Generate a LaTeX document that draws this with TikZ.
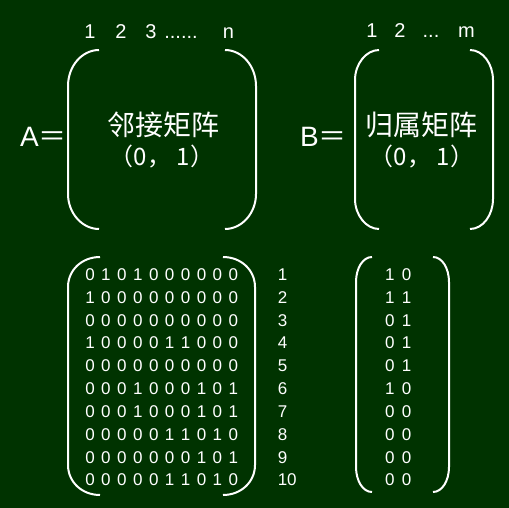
\documentclass[tikz,border=0pt]{standalone}
\usepackage{fontspec}
\setmainfont{Liberation Sans}
\newfontfamily\cjk{Noto Sans CJK SC}
\usetikzlibrary{matrix, positioning}
\definecolor{board}{RGB}{0,51,0}
\tikzset{
  every node/.style={text=white, inner sep=0pt},
  big/.style={font=\fontsize{28}{28}\selectfont},
  mid/.style={font=\fontsize{24}{24}\selectfont},
  head/.style={font=\fontsize{20}{20}\selectfont, anchor=base},
  small/.style={font=\fontsize{17}{17}\selectfont},
  cell/.style={small, minimum width=15.93pt, minimum height=22.83pt},
  paren/.style={draw=white, line width=2pt},
}

\begin{document}
\begin{tikzpicture}[x=1pt, y=-1pt]
		% board
		\fill[board] (0,0) rectangle (509,508);
		\useasboundingbox (0,0) rectangle (509,508);

		% matrix A, general form
		\node[big, anchor=base west] (A) at (20,147) {A\cjk{＝}};
		\node[head] (acol1) at (90,39) {1};
		\node[head] (acol2) at (121,39) {2};
		\node[head] (acol3) at (151,39) {3};
		\node[head] (adots) at (181,39) {......};
		\node[head] (acoln) at (228.5,39) {n};
		\node[big] (adjname) at (163.5,124.5) {\cjk{邻接矩阵}};
		\node[mid] (adjval) at (162,157) {\cjk{（}0\cjk{，} 1\cjk{）}};
		\draw[paren] (99,50) .. controls (82,50) and (68,66) .. (68,86) -- (68,194)
			.. controls (68,213) and (82,229) .. (99,229);
		\draw[paren] (225,50) .. controls (242,50) and (256,66) .. (256,86) -- (256,194)
			.. controls (256,213) and (242,229) .. (225,229);

		% matrix B, general form
		\node[big, anchor=base west] (B) at (300,147) {B\cjk{＝}};
		\node[head] (bcol1) at (372,38) {1};
		\node[head] (bcol2) at (400,38) {2};
		\node[head] (bdots) at (431,38) {...};
		\node[head] (bcolm) at (466.5,38) {m};
		\node[big] (incname) at (421,124.5) {\cjk{归属矩阵}};
		\node[mid] (incval) at (422,157) {\cjk{（}0\cjk{，} 1\cjk{）}};
		\draw[paren] (379,50) .. controls (366,50) and (355,64) .. (355,80) -- (355,199)
			.. controls (355,215) and (366,229) .. (379,229);
		\draw[paren] (470,50) .. controls (483,50) and (493,64) .. (493,80) -- (493,199)
			.. controls (493,215) and (483,229) .. (470,229);

		% adjacency matrix
		\matrix (adj) [matrix of nodes, nodes={cell}] at (161.7,377.25) {
			0 & 1 & 0 & 1 & 0 & 0 & 0 & 0 & 0 & 0 \\
			1 & 0 & 0 & 0 & 0 & 0 & 0 & 0 & 0 & 0 \\
			0 & 0 & 0 & 0 & 0 & 0 & 0 & 0 & 0 & 0 \\
			1 & 0 & 0 & 0 & 0 & 1 & 1 & 0 & 0 & 0 \\
			0 & 0 & 0 & 0 & 0 & 0 & 0 & 0 & 0 & 0 \\
			0 & 0 & 0 & 1 & 0 & 0 & 0 & 1 & 0 & 1 \\
			0 & 0 & 0 & 1 & 0 & 0 & 0 & 1 & 0 & 1 \\
			0 & 0 & 0 & 0 & 0 & 1 & 1 & 0 & 1 & 0 \\
			0 & 0 & 0 & 0 & 0 & 0 & 0 & 1 & 0 & 1 \\
			0 & 0 & 0 & 0 & 0 & 1 & 1 & 0 & 1 & 0 \\
		};
		\foreach \i in {1,...,10}
			\node[small, right=36pt of adj-\i-10] (row\i) {\i};
		\draw[paren] (100,257) .. controls (82,257) and (68,270) .. (68,287) -- (68,465)
			.. controls (68,482) and (82,495) .. (100,495);
		\draw[paren] (223,257) .. controls (241,257) and (255,270) .. (255,287) -- (255,465)
			.. controls (255,482) and (241,495) .. (223,495);

		% incidence matrix
		\matrix (inc) [matrix of nodes, nodes={cell, minimum width=16.7pt}] at (398.3,377.25) {
			1 & 0 \\
			1 & 1 \\
			0 & 1 \\
			0 & 1 \\
			0 & 1 \\
			1 & 0 \\
			0 & 0 \\
			0 & 0 \\
			0 & 0 \\
			0 & 0 \\
		};
		\draw[paren] (372,257) .. controls (363,257) and (356,268) .. (356,282) -- (356,467)
			.. controls (356,481) and (363,492) .. (372,492);
		\draw[paren] (433,257) .. controls (442,257) and (449,268) .. (449,282) -- (449,467)
			.. controls (449,481) and (442,492) .. (433,492);

	\end{tikzpicture}
\end{document}
